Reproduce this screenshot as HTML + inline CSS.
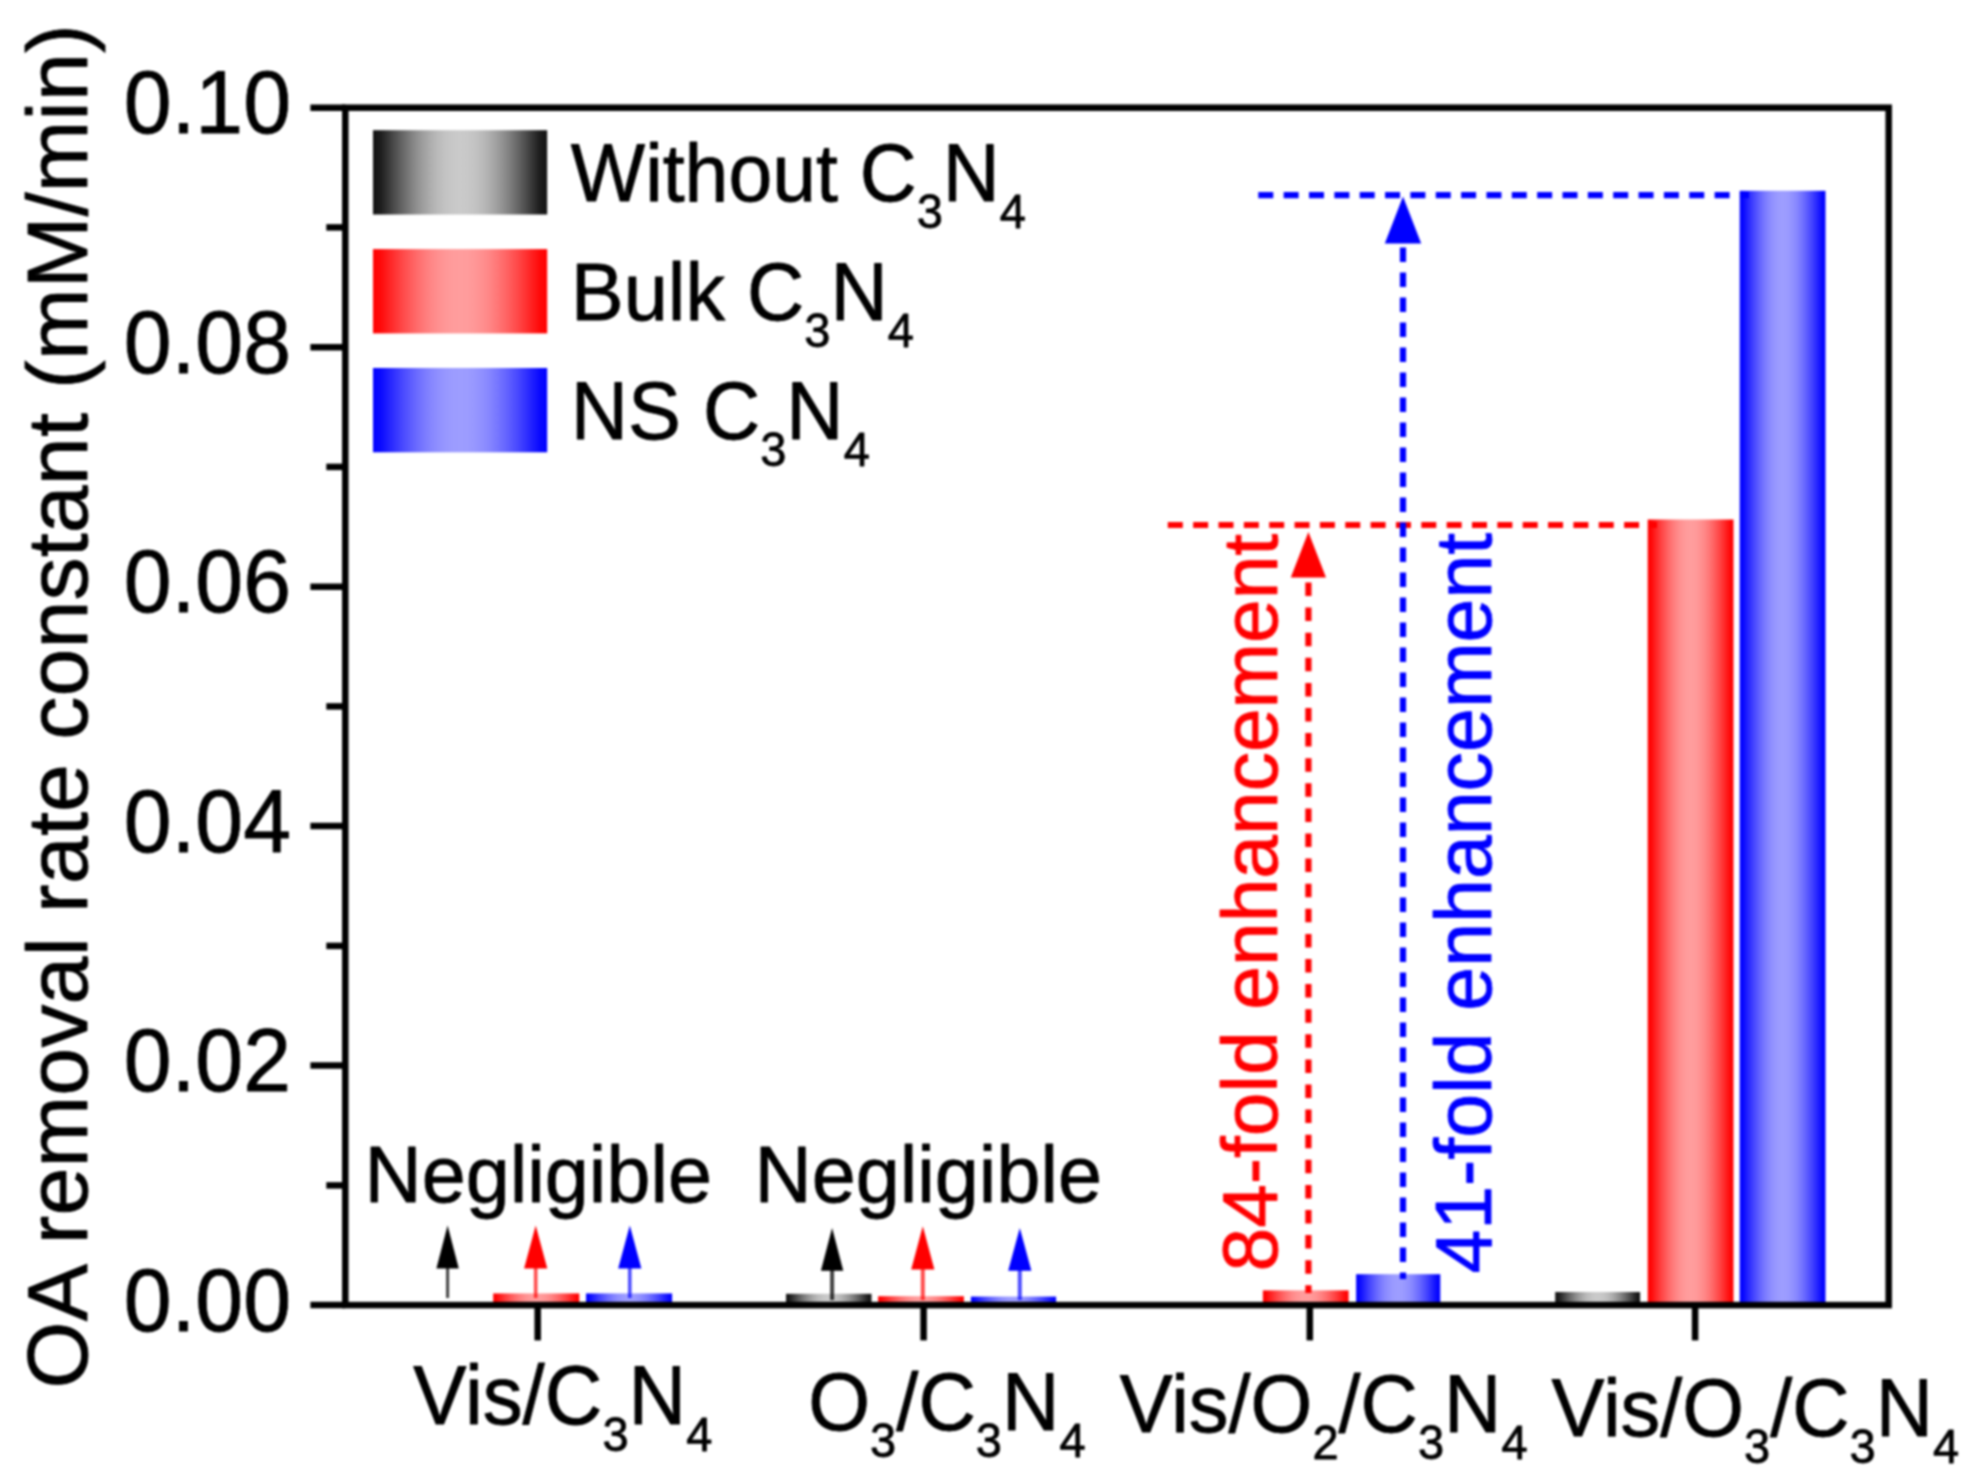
<!DOCTYPE html>
<html lang="en"><head><meta charset="utf-8">
<title>OA removal rate constant</title>
<style>
html,body{margin:0;padding:0;background:#fff;}
body{width:1976px;height:1483px;overflow:hidden;}
svg{display:block;filter:blur(0.8px);}
text{font-family:"Liberation Sans", Arial, Helvetica, sans-serif;stroke-width:0.8px;stroke-linejoin:round;}
text[fill="#000"],g[fill="#000"] text{stroke:#000;}text[fill="#ff0000"]{stroke:#ff0000;}text[fill="#0000ff"]{stroke:#0000ff;}
</style></head><body>
<svg width="1976" height="1483" viewBox="0 0 1976 1483">
<defs>
<linearGradient id="gk" x1="0" y1="0" x2="1" y2="0"><stop offset="0.0000" stop-color="rgb(18,18,18)"/><stop offset="0.0417" stop-color="rgb(28,28,28)"/><stop offset="0.0833" stop-color="rgb(53,53,53)"/><stop offset="0.1250" stop-color="rgb(78,78,78)"/><stop offset="0.1667" stop-color="rgb(101,101,101)"/><stop offset="0.2083" stop-color="rgb(123,123,123)"/><stop offset="0.2500" stop-color="rgb(143,143,143)"/><stop offset="0.2917" stop-color="rgb(160,160,160)"/><stop offset="0.3333" stop-color="rgb(175,175,175)"/><stop offset="0.3750" stop-color="rgb(187,187,187)"/><stop offset="0.4167" stop-color="rgb(195,195,195)"/><stop offset="0.4583" stop-color="rgb(200,200,200)"/><stop offset="0.5000" stop-color="rgb(202,202,202)"/><stop offset="0.5417" stop-color="rgb(200,200,200)"/><stop offset="0.5833" stop-color="rgb(195,195,195)"/><stop offset="0.6250" stop-color="rgb(187,187,187)"/><stop offset="0.6667" stop-color="rgb(175,175,175)"/><stop offset="0.7083" stop-color="rgb(160,160,160)"/><stop offset="0.7500" stop-color="rgb(143,143,143)"/><stop offset="0.7917" stop-color="rgb(123,123,123)"/><stop offset="0.8333" stop-color="rgb(101,101,101)"/><stop offset="0.8750" stop-color="rgb(78,78,78)"/><stop offset="0.9167" stop-color="rgb(53,53,53)"/><stop offset="0.9583" stop-color="rgb(28,28,28)"/><stop offset="1.0000" stop-color="rgb(18,18,18)"/></linearGradient>
<linearGradient id="gr" x1="0" y1="0" x2="1" y2="0"><stop offset="0.0000" stop-color="rgb(255,0,0)"/><stop offset="0.0417" stop-color="rgb(255,9,9)"/><stop offset="0.0833" stop-color="rgb(255,30,30)"/><stop offset="0.1250" stop-color="rgb(255,51,51)"/><stop offset="0.1667" stop-color="rgb(255,71,71)"/><stop offset="0.2083" stop-color="rgb(255,89,89)"/><stop offset="0.2500" stop-color="rgb(255,106,106)"/><stop offset="0.2917" stop-color="rgb(255,121,121)"/><stop offset="0.3333" stop-color="rgb(255,134,134)"/><stop offset="0.3750" stop-color="rgb(255,144,144)"/><stop offset="0.4167" stop-color="rgb(255,151,151)"/><stop offset="0.4583" stop-color="rgb(255,156,156)"/><stop offset="0.5000" stop-color="rgb(255,157,157)"/><stop offset="0.5417" stop-color="rgb(255,156,156)"/><stop offset="0.5833" stop-color="rgb(255,151,151)"/><stop offset="0.6250" stop-color="rgb(255,144,144)"/><stop offset="0.6667" stop-color="rgb(255,134,134)"/><stop offset="0.7083" stop-color="rgb(255,121,121)"/><stop offset="0.7500" stop-color="rgb(255,106,106)"/><stop offset="0.7917" stop-color="rgb(255,89,89)"/><stop offset="0.8333" stop-color="rgb(255,71,71)"/><stop offset="0.8750" stop-color="rgb(255,51,51)"/><stop offset="0.9167" stop-color="rgb(255,30,30)"/><stop offset="0.9583" stop-color="rgb(255,9,9)"/><stop offset="1.0000" stop-color="rgb(255,0,0)"/></linearGradient>
<linearGradient id="gb" x1="0" y1="0" x2="1" y2="0"><stop offset="0.0000" stop-color="rgb(0,0,255)"/><stop offset="0.0417" stop-color="rgb(9,9,255)"/><stop offset="0.0833" stop-color="rgb(30,30,255)"/><stop offset="0.1250" stop-color="rgb(51,51,255)"/><stop offset="0.1667" stop-color="rgb(71,71,255)"/><stop offset="0.2083" stop-color="rgb(89,89,255)"/><stop offset="0.2500" stop-color="rgb(106,106,255)"/><stop offset="0.2917" stop-color="rgb(121,121,255)"/><stop offset="0.3333" stop-color="rgb(134,134,255)"/><stop offset="0.3750" stop-color="rgb(144,144,255)"/><stop offset="0.4167" stop-color="rgb(151,151,255)"/><stop offset="0.4583" stop-color="rgb(156,156,255)"/><stop offset="0.5000" stop-color="rgb(157,157,255)"/><stop offset="0.5417" stop-color="rgb(156,156,255)"/><stop offset="0.5833" stop-color="rgb(151,151,255)"/><stop offset="0.6250" stop-color="rgb(144,144,255)"/><stop offset="0.6667" stop-color="rgb(134,134,255)"/><stop offset="0.7083" stop-color="rgb(121,121,255)"/><stop offset="0.7500" stop-color="rgb(106,106,255)"/><stop offset="0.7917" stop-color="rgb(89,89,255)"/><stop offset="0.8333" stop-color="rgb(71,71,255)"/><stop offset="0.8750" stop-color="rgb(51,51,255)"/><stop offset="0.9167" stop-color="rgb(30,30,255)"/><stop offset="0.9583" stop-color="rgb(9,9,255)"/><stop offset="1.0000" stop-color="rgb(0,0,255)"/></linearGradient>
</defs>
<rect x="0" y="0" width="1976" height="1483" fill="#fff"/>
<g>
<rect x="493.2" y="1293.4" width="86.1" height="9.7" fill="url(#gr)"/>
<rect x="586.0" y="1293.4" width="86.1" height="9.7" fill="url(#gb)"/>
<rect x="786.0" y="1293.8" width="85.5" height="9.3" fill="url(#gk)"/>
<rect x="878.1" y="1296.2" width="85.8" height="6.9" fill="url(#gr)"/>
<rect x="970.9" y="1296.6" width="85.2" height="6.5" fill="url(#gb)"/>
<rect x="1262.9" y="1290.4" width="85.7" height="12.7" fill="url(#gr)"/>
<rect x="1356.1" y="1274.2" width="84.2" height="28.9" fill="url(#gb)"/>
<rect x="1555.2" y="1292.0" width="84.9" height="11.1" fill="url(#gk)"/>
<rect x="1647.7" y="519.5" width="85.8" height="783.6" fill="url(#gr)"/>
<rect x="1739.7" y="190.8" width="85.8" height="1112.3" fill="url(#gb)"/>
</g>
<g fill="none" stroke-width="6.2">
<line x1="1258.3" y1="195.2" x2="1749" y2="195.2" stroke="#0000ff" stroke-dasharray="15 10.35"/>
<line x1="1167.8" y1="525.0" x2="1657" y2="525.0" stroke="#ff0000" stroke-dasharray="15 10.35"/>
<line x1="1403" y1="247.5" x2="1403" y2="1279" stroke="#0000ff" stroke-dasharray="14.5 10.5"/>
<line x1="1308.4" y1="582.5" x2="1308.4" y2="1293" stroke="#ff0000" stroke-dasharray="13.5 11.6"/>
</g>
<polygon points="1403,196.5 1421.2,243.5 1384.8,243.5" fill="#0000ff"/>
<polygon points="1308.4,532 1326,577.5 1290.8,577.5" fill="#ff0000"/>
<g>
<line x1="447.6" y1="1267.6" x2="447.6" y2="1298.0" stroke="#000000" stroke-width="3.0" stroke-opacity="0.75"/>
<polygon points="447.6,1225.4 458.8,1268.6 436.4,1268.6" fill="#000000"/>
<line x1="535.7" y1="1267.6" x2="535.7" y2="1298.0" stroke="#ff0000" stroke-width="3.6" stroke-opacity="0.70"/>
<polygon points="535.7,1225.4 547.3,1268.6 524.1,1268.6" fill="#ff0000"/>
<line x1="629.8" y1="1267.6" x2="629.8" y2="1298.0" stroke="#0000ff" stroke-width="3.6" stroke-opacity="0.70"/>
<polygon points="629.8,1225.4 641.4,1268.6 618.2,1268.6" fill="#0000ff"/>
<line x1="832.1" y1="1269.8" x2="832.1" y2="1300.0" stroke="#000000" stroke-width="4.0" stroke-opacity="0.75"/>
<polygon points="832.1,1228.0 843.3,1270.8 820.9,1270.8" fill="#000000"/>
<line x1="922.8" y1="1268.4" x2="922.8" y2="1300.0" stroke="#ff0000" stroke-width="4.0" stroke-opacity="0.70"/>
<polygon points="922.8,1226.3 934.4,1269.4 911.2,1269.4" fill="#ff0000"/>
<line x1="1019.8" y1="1269.8" x2="1019.8" y2="1300.0" stroke="#0000ff" stroke-width="4.0" stroke-opacity="0.70"/>
<polygon points="1019.8,1228.0 1031.4,1270.8 1008.2,1270.8" fill="#0000ff"/>
</g>
<g stroke="#000" stroke-width="6.5" fill="none" stroke-linecap="butt">
<rect x="345.3" y="107.7" width="1543.4" height="1197.4"/>
<line x1="310.4" y1="1305.1" x2="345.3" y2="1305.1"/>
<line x1="326.3" y1="1185.4" x2="345.3" y2="1185.4"/>
<line x1="310.4" y1="1065.6" x2="345.3" y2="1065.6"/>
<line x1="326.3" y1="945.9" x2="345.3" y2="945.9"/>
<line x1="310.4" y1="826.1" x2="345.3" y2="826.1"/>
<line x1="326.3" y1="706.4" x2="345.3" y2="706.4"/>
<line x1="310.4" y1="586.7" x2="345.3" y2="586.7"/>
<line x1="326.3" y1="466.9" x2="345.3" y2="466.9"/>
<line x1="310.4" y1="347.2" x2="345.3" y2="347.2"/>
<line x1="326.3" y1="227.4" x2="345.3" y2="227.4"/>
<line x1="310.4" y1="107.7" x2="345.3" y2="107.7"/>
<line x1="537.7" y1="1305.1" x2="537.7" y2="1340.4"/>
<line x1="923.6" y1="1305.1" x2="923.6" y2="1340.4"/>
<line x1="1309.8" y1="1305.1" x2="1309.8" y2="1340.4"/>
<line x1="1695.1" y1="1305.1" x2="1695.1" y2="1340.4"/>
</g>
<g font-size="86" text-anchor="end" fill="#000">
<text transform="translate(291.0,1330.7) scale(1,1.040)">0.00</text>
<text transform="translate(291.0,1091.2) scale(1,1.040)">0.02</text>
<text transform="translate(291.0,851.7) scale(1,1.040)">0.04</text>
<text transform="translate(291.0,612.3) scale(1,1.040)">0.06</text>
<text transform="translate(291.0,372.8) scale(1,1.040)">0.08</text>
<text transform="translate(291.0,133.3) scale(1,1.040)">0.10</text>
</g>
<text transform="translate(87.2,1388.4) rotate(-90)" font-size="86" textLength="1364" lengthAdjust="spacing" fill="#000">OA removal rate constant (mM/min)</text>
<text transform="translate(413.2,1423.6) scale(1,1.035)" font-size="79.8" fill="#000">Vis/C<tspan font-size="47.0" dy="26.4">3</tspan><tspan dy="-26.4">N</tspan><tspan font-size="47.0" dy="26.4">4</tspan></text>
<text transform="translate(808.2,1429.6) scale(1,1.035)" font-size="79.6" fill="#000">O<tspan font-size="47.0" dy="26.4">3</tspan><tspan dy="-26.4">/</tspan>C<tspan font-size="47.0" dy="26.4">3</tspan><tspan dy="-26.4">N</tspan><tspan font-size="47.0" dy="26.4">4</tspan></text>
<text transform="translate(1119.7,1431.8) scale(1,1.035)" font-size="79.4" fill="#000">Vis/O<tspan font-size="47.0" dy="26.4">2</tspan><tspan dy="-26.4">/</tspan>C<tspan font-size="47.0" dy="26.4">3</tspan><tspan dy="-26.4">N</tspan><tspan font-size="47.0" dy="26.4">4</tspan></text>
<text transform="translate(1551.4,1435.6) scale(1,1.035)" font-size="79.4" fill="#000">Vis/O<tspan font-size="47.0" dy="26.4">3</tspan><tspan dy="-26.4">/</tspan>C<tspan font-size="47.0" dy="26.4">3</tspan><tspan dy="-26.4">N</tspan><tspan font-size="47.0" dy="26.4">4</tspan></text>
<g>
<rect x="373.0" y="130.2" width="174.2" height="84.3" fill="url(#gk)"/>
<rect x="373.0" y="249.1" width="174.2" height="84.3" fill="url(#gr)"/>
<rect x="373.0" y="368.0" width="174.2" height="84.3" fill="url(#gb)"/>
</g>
<text transform="translate(570.8,200.6) scale(1,1.025)" font-size="78.8" fill="#000">Without C<tspan font-size="47.0" dy="26.6">3</tspan><tspan dy="-26.6">N</tspan><tspan font-size="47.0" dy="26.6">4</tspan></text>
<text transform="translate(570.8,319.8) scale(1,1.025)" font-size="79.3" fill="#000">Bulk C<tspan font-size="47.0" dy="26.6">3</tspan><tspan dy="-26.6">N</tspan><tspan font-size="47.0" dy="26.6">4</tspan></text>
<text transform="translate(570.8,438.6) scale(1,1.025)" font-size="79.3" fill="#000">NS C<tspan font-size="47.0" dy="26.6">3</tspan><tspan dy="-26.6">N</tspan><tspan font-size="47.0" dy="26.6">4</tspan></text>
<g font-size="79.1" fill="#000">
<text x="364.6" y="1201.8">Negligible</text>
<text x="754.6" y="1201.8">Negligible</text>
</g>
<text transform="translate(1276.8,1271.4) rotate(-90)" font-size="78.6" textLength="737.6" lengthAdjust="spacing" fill="#ff0000">84-fold enhancement</text>
<text transform="translate(1491.4,1273.6) rotate(-90)" font-size="78.9" textLength="740.8" lengthAdjust="spacing" fill="#0000ff">41-fold enhancement</text>
</svg>
</body></html>
